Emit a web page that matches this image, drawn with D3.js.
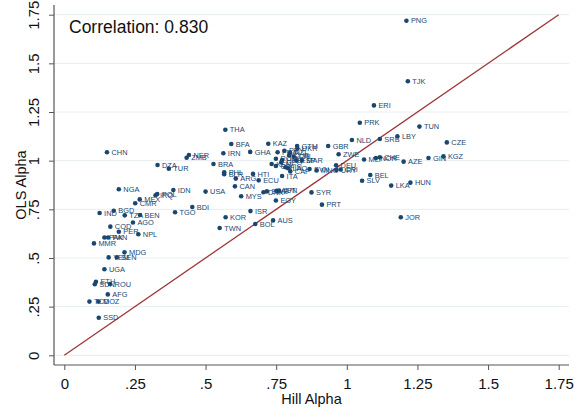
<!DOCTYPE html>
<html>
<head>
<meta charset="utf-8">
<script src="https://cdn.jsdelivr.net/npm/d3@7"></script>
<style>
  html, body { margin: 0; padding: 0; background: #fff; }
  svg { display: block; font-family: "Liberation Sans", Arial, sans-serif; }
</style>
</head>
<body>
<svg id="chart" width="574" height="409"></svg>
<script>
// Country codes with Hill and OLS tail-exponent estimates
const countries = [
  "PNG","TJK","ERI","PRK","TUN","THA","LBY","SRB","NLD","CZE",
  "BFA","KAZ","GTM","GBR","UKR","CHN","IRN","GHA","NER","ZMB",
  "ZWE","GIN","KGZ","MLI","NOR","CHE","AZE","DZA","BRA","TUR",
  "BEL","SLV","LKA","HUN","HTI","ECU","ITA","ARG","PHL","BLR",
  "CAN","USA","IDN","NGA","IRQ","POL","MEX","CMR","MYS","DNK",
  "SWE","AUT","JPN","SYR","EGY","PRT","BDI","TGO","ISR","KOR",
  "AUS","BOL","TWN","JOR","IND","BGD","TZA","BEN","AGO","COD",
  "PER","NPL","PAK","PAN","MMR","MDG","YEM","SEN","UGA","ETH",
  "SDN","ROU","AFG","TCD","MOZ","SSD",
  "FRA","PRY","NZL","CUB","ROM","HND","GEO","KEN","CIV","FIN",
  "LAO","CAF","ESP","MAR","SVN","MNG","DEU","URY","CRI","CHL"
];
const hillAlpha = [
  1.211,1.216,1.096,1.046,1.257,0.570,1.179,1.117,1.018,1.354,
  0.591,0.722,0.824,0.934,0.825,0.151,0.563,0.658,0.441,0.433,
  0.971,1.289,1.342,1.061,1.103,1.117,1.201,0.330,0.528,0.370,
  1.083,1.054,1.157,1.225,0.668,0.688,0.771,0.607,0.566,0.566,
  0.604,0.500,0.386,0.193,0.323,0.329,0.267,0.251,0.626,0.705,
  0.717,0.752,0.760,0.875,0.749,0.912,0.453,0.392,0.659,0.571,
  0.739,0.676,0.550,1.191,0.125,0.175,0.214,0.268,0.243,0.163,
  0.193,0.262,0.142,0.155,0.105,0.213,0.157,0.186,0.142,0.112,
  0.108,0.162,0.154,0.089,0.121,0.122,
  0.755,0.779,0.799,0.796,0.749,0.771,0.768,0.734,0.749,0.783,
  0.792,0.800,0.821,0.841,0.868,0.893,0.962,0.963,0.978,0.812
];
const olsAlpha = [
  1.719,1.408,1.284,1.195,1.175,1.159,1.125,1.111,1.106,1.094,
  1.086,1.087,1.075,1.075,1.062,1.043,1.038,1.045,1.029,1.015,
  1.033,1.014,1.022,1.006,1.014,1.017,0.995,0.978,0.983,0.959,
  0.926,0.897,0.872,0.887,0.932,0.899,0.921,0.908,0.940,0.930,
  0.868,0.841,0.849,0.853,0.822,0.829,0.801,0.781,0.817,0.838,
  0.842,0.845,0.846,0.837,0.795,0.774,0.762,0.735,0.741,0.709,
  0.693,0.675,0.654,0.709,0.731,0.743,0.719,0.721,0.682,0.661,
  0.635,0.622,0.605,0.605,0.575,0.529,0.503,0.503,0.442,0.378,
  0.365,0.366,0.313,0.276,0.276,0.193,
  1.043,1.051,1.041,1.026,1.010,1.003,0.991,0.983,0.973,0.966,
  0.961,0.945,1.002,1.002,0.957,0.950,0.976,0.952,0.955,1.021
];
const axisTicks = [0, 0.25, 0.5, 0.75, 1, 1.25, 1.5, 1.75];
const correlationLabel = "Correlation: 0.830";
const xTitle = "Hill Alpha";
const yTitle = "OLS Alpha";

const points = countries.map((c, i) => ({ code: c, hill: hillAlpha[i], ols: olsAlpha[i] }));

const svg = d3.select("#chart");
const navy = "#1a476f";

const x = d3.scaleLinear().domain([0, 1.75]).range([64.3, 558.7]);
const y = d3.scaleLinear().domain([0, 1.75]).range([355.3, 14.7]);

const plotLeft = 54, plotRight = 569, plotBottom = 365, plotTop = 5;

// Stata-style tick labels: drop the leading zero
const fmt = v => v === 0 ? "0" : String(v).replace(/^0\./, ".");

// Horizontal gridlines
svg.append("g")
  .selectAll("line")
  .data(axisTicks)
  .join("line")
  .attr("x1", plotLeft).attr("x2", plotRight)
  .attr("y1", d => y(d)).attr("y2", d => y(d))
  .attr("stroke", "#e6eef1").attr("stroke-width", 1);

// x axis
const gx = svg.append("g")
  .attr("transform", `translate(0,${plotBottom})`)
  .call(d3.axisBottom(x).tickValues(axisTicks).tickFormat(fmt).tickSize(5).tickPadding(8).tickSizeOuter(0));
gx.select(".domain").remove();
gx.append("line").attr("x1", plotLeft).attr("x2", plotRight).attr("y1", 0).attr("y2", 0)
  .attr("stroke", "#555").attr("stroke-width", 1.2);
gx.selectAll(".tick line").attr("stroke", "#555");
gx.selectAll(".tick text").attr("font-size", 15).attr("fill", "#111")
  .attr("font-family", "Liberation Sans, Arial, sans-serif");

// y axis
const gy = svg.append("g")
  .attr("transform", `translate(${plotLeft},0)`)
  .call(d3.axisLeft(y).tickValues(axisTicks).tickFormat(fmt).tickSize(5).tickSizeOuter(0));
gy.select(".domain").remove();
gy.append("line").attr("x1", 0).attr("x2", 0).attr("y1", plotTop).attr("y2", plotBottom)
  .attr("stroke", "#555").attr("stroke-width", 1.2);
gy.selectAll(".tick line").attr("stroke", "#555");
gy.selectAll(".tick text")
  .attr("font-size", 15).attr("fill", "#111")
  .attr("font-family", "Liberation Sans, Arial, sans-serif")
  .attr("x", null).attr("dy", null)
  .attr("text-anchor", "middle")
  .attr("transform", "translate(-15,0) rotate(-90)")
  .attr("dominant-baseline", "auto");

// Axis titles
svg.append("text")
  .attr("x", (x(0) + x(1.75)) / 2).attr("y", 404)
  .attr("text-anchor", "middle").attr("font-size", 14.5).attr("fill", "#111")
  .text(xTitle);
svg.append("text")
  .attr("transform", `translate(26,${(y(0) + y(1.75)) / 2}) rotate(-90)`)
  .attr("text-anchor", "middle").attr("font-size", 14.5).attr("fill", "#111")
  .text(yTitle);

// 45-degree reference line
svg.append("line")
  .attr("x1", x(0)).attr("y1", y(0))
  .attr("x2", x(1.75)).attr("y2", y(1.75))
  .attr("stroke", "#a03438").attr("stroke-width", 1.3);

// Points with country labels to the right
const g = svg.append("g");
g.selectAll("circle")
  .data(points)
  .join("circle")
  .attr("cx", d => x(d.hill)).attr("cy", d => y(d.ols))
  .attr("r", 2.3).attr("fill", navy);
g.selectAll("text")
  .data(points)
  .join("text")
  .attr("x", d => x(d.hill) + 4.5).attr("y", d => y(d.ols) + 2.6)
  .attr("font-size", 7.4).attr("fill", navy)
  .text(d => d.code);

// Correlation annotation
svg.append("text")
  .attr("x", 69).attr("y", 33)
  .attr("font-size", 17.5).attr("fill", "#111")
  .text(correlationLabel);
</script>
</body>
</html>
